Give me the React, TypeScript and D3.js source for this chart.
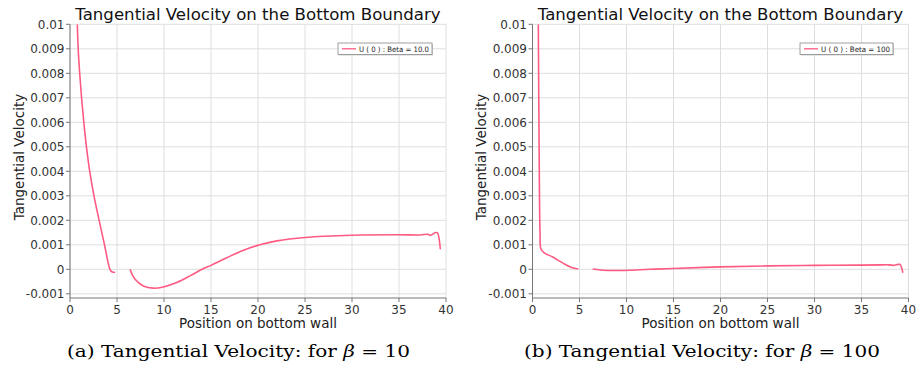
import React from "react";
import * as d3 from "d3";

const xTicks = [0, 5, 10, 15, 20, 25, 30, 35, 40];
const yTicks = [-0.001, 0, 0.001, 0.002, 0.003, 0.004, 0.005, 0.006, 0.007, 0.008, 0.009, 0.01];
const yTickLabels = ["-0.001", "0", "0.001", "0.002", "0.003", "0.004", "0.005", "0.006", "0.007", "0.008", "0.009", "0.01"];

// beta = 10
const b10Seg1X = [0.78, 0.87, 1.03, 1.23, 1.47, 1.75, 2.1, 2.55, 3.1, 3.67, 4.25, 4.45, 4.8];
const b10Seg1Y = [0.01, 0.009, 0.008, 0.007, 0.006, 0.005, 0.004, 0.003, 0.002, 0.001, 0.0, -0.0001, -0.00013];
const b10Seg2X = [6.38, 6.9, 7.8, 8.86, 9.93, 11.35, 12.77, 14.2, 15, 16.67, 18.4, 20.2, 22, 25, 30, 35, 37.2, 38.1, 38.3, 38.94, 39.1, 39.4];
const b10Seg2Y = [0, -0.0004, -0.00068, -0.00077, -0.00072, -0.00054, -0.00027, 0.00003, 0.00016, 0.00047, 0.00077, 0.001, 0.00116, 0.0013, 0.00139, 0.00141, 0.0014, 0.00143, 0.00139, 0.0015, 0.00148, 0.00082];

// beta = 100
const b100Seg1X = [0.62, 0.72, 0.8, 0.9, 1.22, 2.2, 3.28, 4.17, 4.87];
const b100Seg1Y = [0.01, 0.0041, 0.0015, 0.00083, 0.00068, 0.00049, 0.00024, 0.00007, 0.00001];
const b100Seg2X = [6.4, 7.53, 8.96, 10.37, 12.5, 15, 20, 25, 30, 35, 37, 38.0, 38.4, 38.9, 39.1, 39.4];
const b100Seg2Y = [0.00001, -0.00004, -0.00005, -0.00004, 0, 0.00003, 0.0001, 0.00014, 0.00016, 0.00017, 0.00018, 0.00018, 0.00016, 0.0002, 0.0002, -0.00014];

const titleText = "Tangential Velocity on the Bottom Boundary";
const xLabel = "Position on bottom wall";
const yLabel = "Tangential Velocity";
const legends = ["U ( 0 ) : Beta = 10.0", "U ( 0 ) : Beta = 100"];
const captionsPre = ["(a) Tangential Velocity: for ", "(b) Tangential Velocity: for "];
const captionsPost = [" = 10", " = 100"];

const LINE = "#ff5a82";
const SANS = "'DejaVu Sans', sans-serif";

type PanelProps = {
  x0: number;
  segs: [number[], number[]][];
  legend: string;
  legendX: number;
  legendW: number;
  capPre: string;
  capPost: string;
  capCenter: number;
  capLen: number;
  yLabelX: number;
};

function Panel(p: PanelProps) {
  const x = d3.scaleLinear().domain([0, 40]).range([p.x0, p.x0 + 376]);
  const y = d3.scaleLinear().domain([0, 0.01]).range([269.3, 24.3]);
  const yBottom = 298;
  const top = y(0.01);
  const line = d3
    .line<[number, number]>()
    .x((d) => x(d[0]))
    .y((d) => y(d[1]))
    .curve(d3.curveCatmullRom.alpha(0.5));
  const cx = (x(0) + x(40)) / 2;
  const clipId = "clip" + Math.round(p.x0);
  return (
    <g>
      <defs>
        <clipPath id={clipId}>
          <rect x={x(0)} y={top} width={x(40) - x(0)} height={yBottom - top} />
        </clipPath>
      </defs>
      {/* grid */}
      {xTicks.map((t) => (
        <line key={"gx" + t} x1={x(t)} x2={x(t)} y1={top} y2={yBottom} stroke="#dedede" strokeWidth={1} />
      ))}
      {yTicks.map((t) => (
        <line key={"gy" + t} x1={x(0)} x2={x(40)} y1={y(t)} y2={y(t)} stroke="#dedede" strokeWidth={1} />
      ))}
      {/* axes */}
      <line x1={x(0)} x2={x(0)} y1={top} y2={yBottom} stroke="#777" strokeWidth={1} />
      <line x1={x(0)} x2={x(40)} y1={yBottom} y2={yBottom} stroke="#777" strokeWidth={1} />
      {xTicks.map((t) => (
        <g key={"xt" + t}>
          <line x1={x(t)} x2={x(t)} y1={yBottom} y2={yBottom + 4} stroke="#777" />
          <text x={x(t)} y={313.5} textAnchor="middle" fontFamily={SANS} fontSize={12} fill="#333">
            {t}
          </text>
        </g>
      ))}
      {yTicks.map((t, i) => (
        <g key={"yt" + t}>
          <line x1={x(0) - 4} x2={x(0)} y1={y(t)} y2={y(t)} stroke="#777" />
          <text x={x(0) - 5.5} y={y(t)} dy="0.36em" textAnchor="end" fontFamily={SANS} fontSize={12} fill="#333">
            {yTickLabels[i]}
          </text>
        </g>
      ))}
      {/* data */}
      <g clipPath={`url(#${clipId})`}>
        {p.segs.map((s, i) => (
          <path
            key={i}
            d={line(s[0].map((v, j) => [v, s[1][j]] as [number, number])) || ""}
            fill="none"
            stroke={LINE}
            strokeWidth={1.6}
            strokeLinejoin="round"
          />
        ))}
      </g>
      {/* title */}
      <text x={cx} y={20} textAnchor="middle" fontFamily={SANS} fontSize={16.6} fill="#111">
        {titleText}
      </text>
      {/* axis labels */}
      <text x={cx} y={328} textAnchor="middle" fontFamily={SANS} fontSize={13.5} fill="#222">
        {xLabel}
      </text>
      <text
        transform={`translate(${p.yLabelX},157) rotate(-90)`}
        textAnchor="middle"
        fontFamily={SANS}
        fontSize={13.5}
        fill="#222"
      >
        {yLabel}
      </text>
      {/* legend */}
      <rect x={p.legendX + 1} y={44} width={p.legendW} height={11.5} fill="#cfcfcf" />
      <rect x={p.legendX} y={43} width={p.legendW} height={11.5} fill="#fff" stroke="#888" strokeWidth={0.8} />
      <line x1={p.legendX + 4} x2={p.legendX + 18} y1={48.8} y2={48.8} stroke={LINE} strokeWidth={1.3} />
      <text
        x={p.legendX + 21}
        y={51.6}
        fontFamily={SANS}
        fontSize={7.4}
        fill="#222"
        textLength={p.legendW - 24}
        lengthAdjust="spacingAndGlyphs"
      >
        {p.legend}
      </text>
      {/* caption */}
      <text
        x={p.capCenter}
        y={356.5}
        textAnchor="middle"
        fontFamily="'DejaVu Serif', serif"
        fontSize={17}
        fill="#000"
        textLength={p.capLen}
        lengthAdjust="spacingAndGlyphs"
      >
        {p.capPre}
        <tspan fontStyle="italic">β</tspan>
        {p.capPost}
      </text>
    </g>
  );
}

export default function App() {
  return (
    <svg width={917} height={368} style={{ display: "block", position: "absolute", left: 0, top: 0, background: "#fff" }}>
      <rect x={0} y={0} width={917} height={368} fill="#fff" />
      <Panel
        x0={70}
        segs={[
          [b10Seg1X, b10Seg1Y],
          [b10Seg2X, b10Seg2Y],
        ]}
        legend={legends[0]}
        legendX={338}
        legendW={94}
        capPre={captionsPre[0]}
        capPost={captionsPost[0]}
        capCenter={238.5}
        capLen={343}
        yLabelX={24}
      />
      <Panel
        x0={532.5}
        segs={[
          [b100Seg1X, b100Seg1Y],
          [b100Seg2X, b100Seg2Y],
        ]}
        legend={legends[1]}
        legendX={800}
        legendW={93}
        capPre={captionsPre[1]}
        capPost={captionsPost[1]}
        capCenter={702}
        capLen={356}
        yLabelX={486}
      />
    </svg>
  );
}
